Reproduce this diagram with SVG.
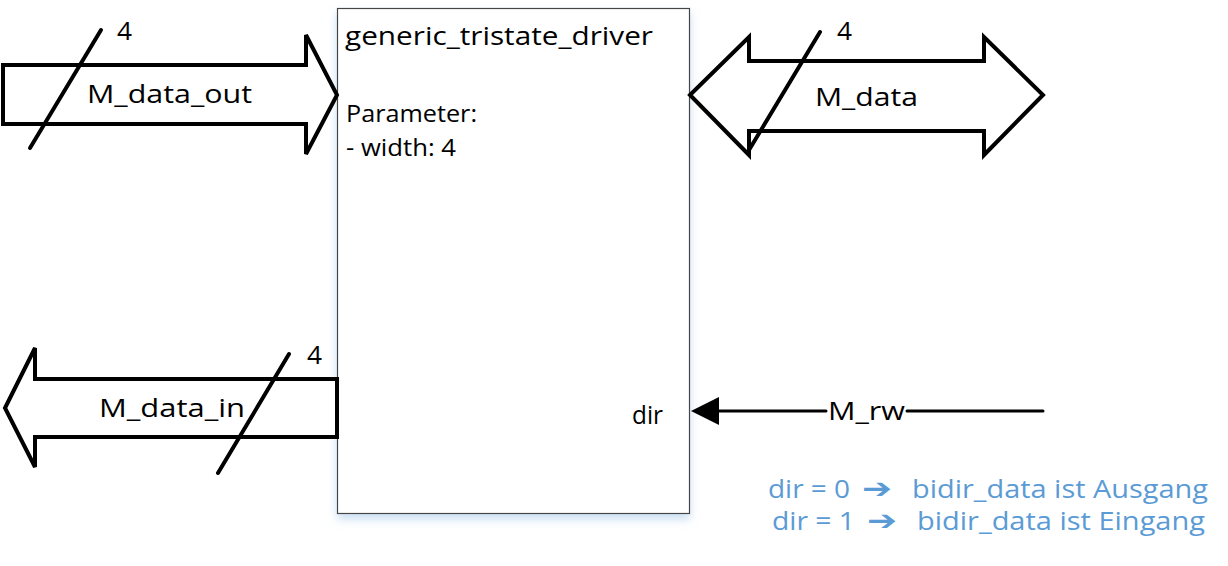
<svg xmlns="http://www.w3.org/2000/svg" width="1228" height="566" viewBox="0 0 1228 566">
  <style>
    .t { font-family: "Open Sans", "Liberation Sans", sans-serif; font-size: 26px; fill: #000; }
    .s { font-size: 23px; }
    .bus { fill: #fff; stroke: #000; stroke-width: 4; stroke-linejoin: miter; }
    .slash { stroke: #000; stroke-width: 4; stroke-linecap: round; fill: none; }
    .wire { stroke: #000; stroke-width: 3; stroke-linecap: round; fill: none; }
    .note { font-family: "Open Sans", "Liberation Sans", sans-serif; font-size: 25px; fill: #5B9BD5; }
    .arr { font-family: "DejaVu Sans", sans-serif; font-weight: bold; font-size: 28px; fill: #5B9BD5; }
  </style>
  <defs>
    <filter id="shadow" x="-10%" y="-10%" width="120%" height="120%">
      <feDropShadow dx="0" dy="5" stdDeviation="5" flood-color="#9DC3E6" flood-opacity="0.55"/>
    </filter>
  </defs>
  <rect width="1228" height="566" fill="#fff"/>

  <g id="generic_tristate_driver">
    <rect x="337.5" y="8.5" width="352" height="505" fill="#fff" stroke="#444" stroke-width="1.2" filter="url(#shadow)"/>
    <text class="t" x="345" y="45" textLength="308" lengthAdjust="spacingAndGlyphs">generic_tristate_driver</text>
    <text class="t s" x="346" y="122" textLength="131" lengthAdjust="spacingAndGlyphs">Parameter:</text>
    <text class="t s" x="346" y="156" textLength="110" lengthAdjust="spacingAndGlyphs">- width: 4</text>
    <text class="t" x="632" y="424" textLength="31" lengthAdjust="spacingAndGlyphs">dir</text>
  </g>

  <g id="connectors">
    <g id="M_data_out">
      <path class="bus" d="M3 65 H306 V35 L337 95 L306 154 V124 H3 Z"/>
      <line class="slash" x1="30" y1="148" x2="101" y2="30"/>
      <text class="t" x="117" y="40" textLength="15" lengthAdjust="spacingAndGlyphs">4</text>
      <text class="t" x="87" y="103" textLength="165" lengthAdjust="spacingAndGlyphs">M_data_out</text>
    </g>
    <g id="M_data">
      <path class="bus" d="M690 95 L749 37 V61 H984 V37 L1043 95 L984 155 V131 H749 V155 Z"/>
      <line class="slash" x1="749" y1="150" x2="820" y2="32"/>
      <text class="t" x="837" y="40" textLength="15" lengthAdjust="spacingAndGlyphs">4</text>
      <text class="t" x="815" y="106" textLength="103" lengthAdjust="spacingAndGlyphs">M_data</text>
    </g>
    <g id="M_data_in">
      <path class="bus" d="M5 408 L35 348 V379 H337 V437 H35 V467 Z"/>
      <line class="slash" x1="218" y1="473" x2="289" y2="354"/>
      <text class="t" x="307" y="364" textLength="15" lengthAdjust="spacingAndGlyphs">4</text>
      <text class="t" x="99" y="417" textLength="146" lengthAdjust="spacingAndGlyphs">M_data_in</text>
    </g>
    <g id="M_rw">
      <path class="wire" d="M1043 411 H907 M826 411 H718"/>
      <path d="M691 411 L719 397 L719 425 Z" fill="#000"/>
      <text class="t" x="828" y="420" textLength="77" lengthAdjust="spacingAndGlyphs">M_rw</text>
    </g>
  </g>

  <g id="note">
    <text class="note" x="768" y="498" textLength="82" lengthAdjust="spacingAndGlyphs">dir = 0</text>
    <text class="arr" x="862" y="498" textLength="30" lengthAdjust="spacingAndGlyphs">➔</text>
    <text class="note" x="912" y="498" textLength="296" lengthAdjust="spacingAndGlyphs">bidir_data ist Ausgang</text>
    <text class="note" x="772" y="530" textLength="83" lengthAdjust="spacingAndGlyphs">dir = 1</text>
    <text class="arr" x="867" y="530" textLength="30" lengthAdjust="spacingAndGlyphs">➔</text>
    <text class="note" x="917" y="530" textLength="288" lengthAdjust="spacingAndGlyphs">bidir_data ist Eingang</text>
  </g>
</svg>
